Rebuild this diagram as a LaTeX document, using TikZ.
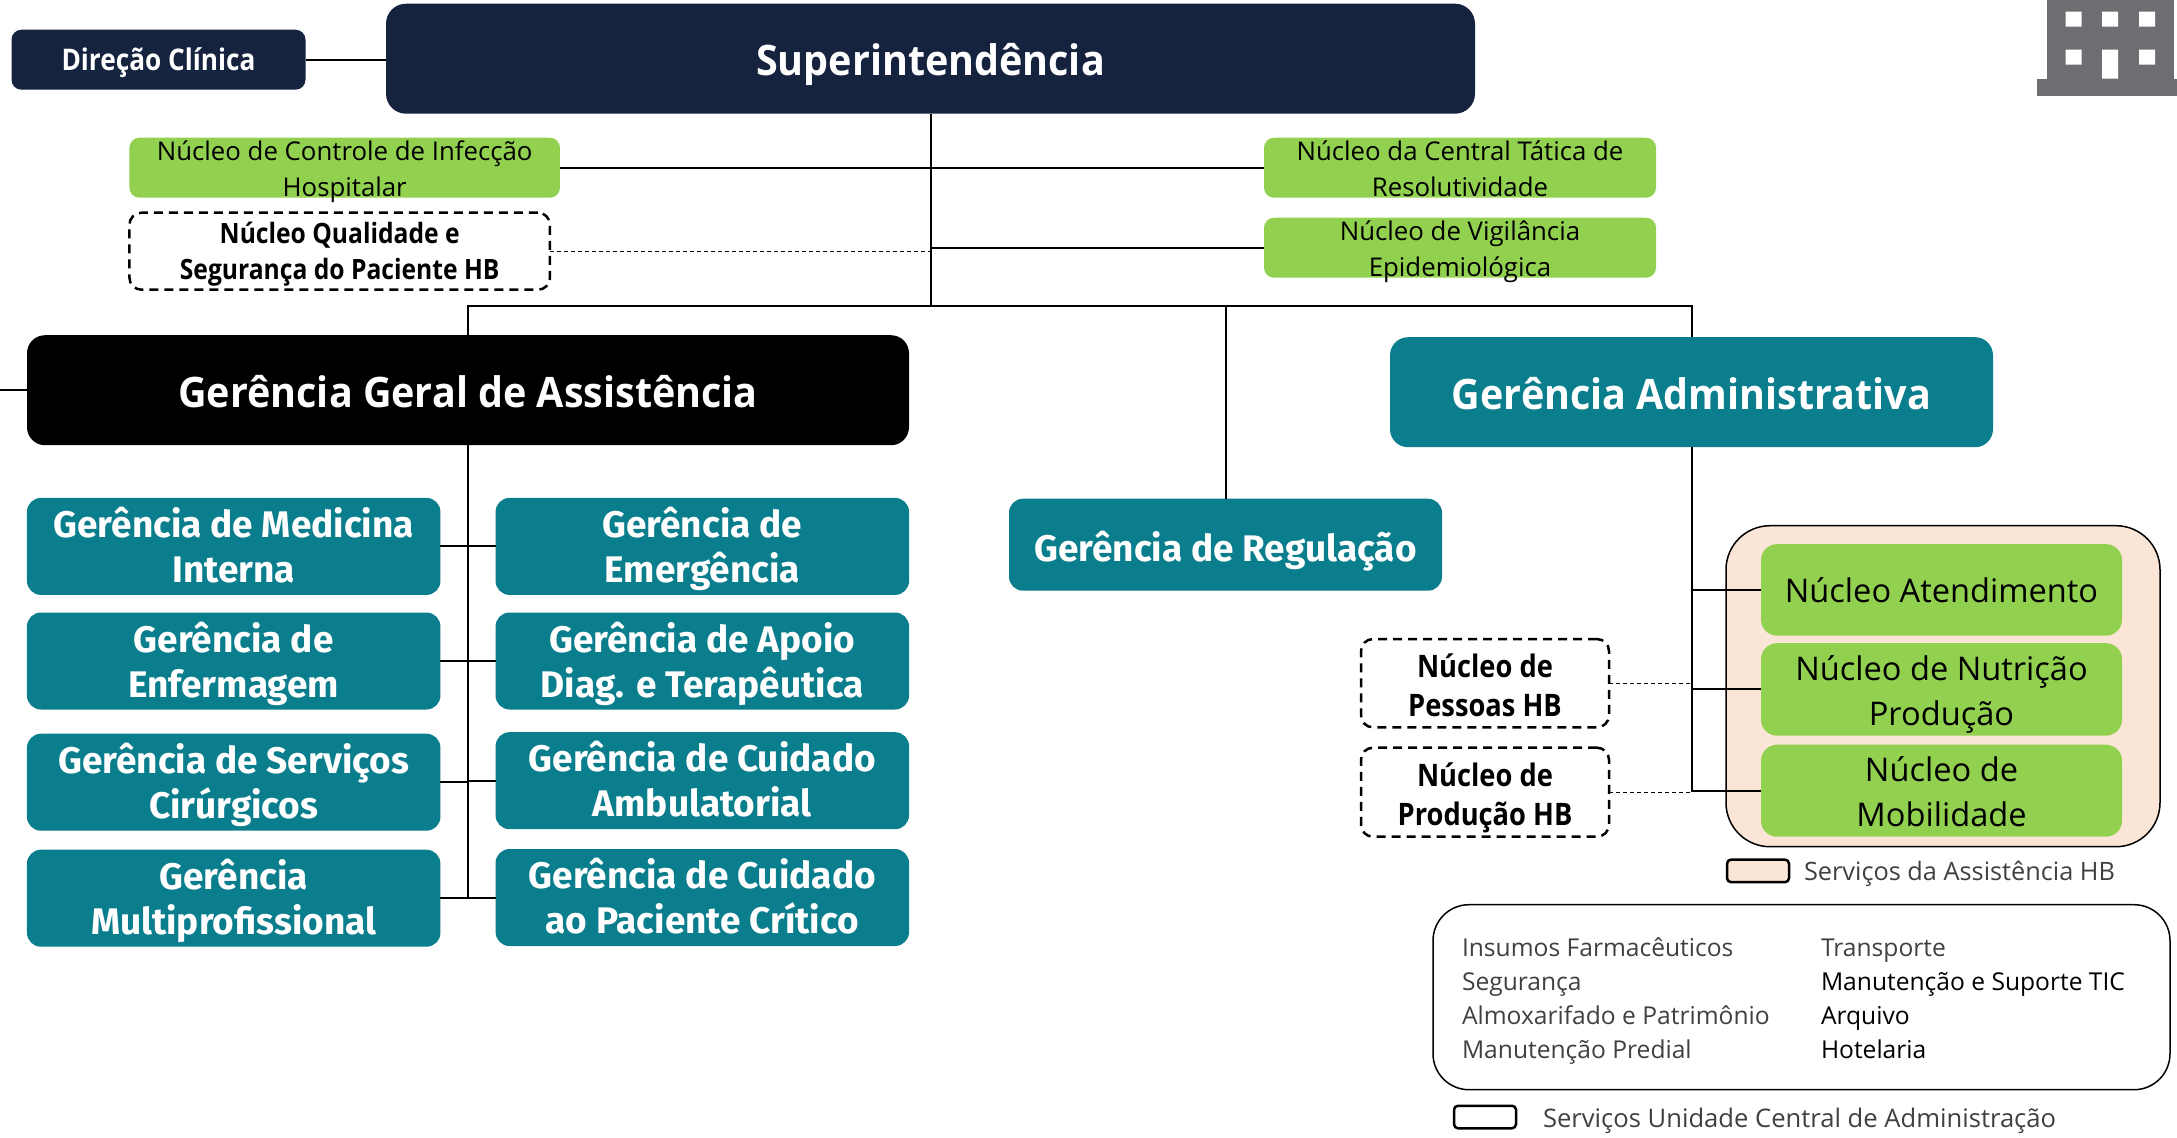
\documentclass[tikz,border=0pt]{standalone}
\usepackage{fontspec}
\setmainfont{Open Sans}
\newfontfamily\semibf{Open Sans}[BoldFeatures={FakeStretch=0.94}]
\newfontfamily\semibn{Open Sans}[BoldFeatures={FakeStretch=0.88}]
\newcommand{\semib}{\semibf\bfseries}
\newcommand{\semic}{\semibn\bfseries}
\newfontfamily\firaf{Fira Sans}
\newcommand{\firab}{\firaf\bfseries}
\definecolor{navy}{HTML}{16233F}
\definecolor{teal2}{HTML}{0A7E8C}
\definecolor{grn}{HTML}{92D050}
\definecolor{peach}{HTML}{FBE5D6}
\definecolor{bldg}{HTML}{6D6E71}
\definecolor{ink}{HTML}{404040}
\newcommand{\fsz}[2]{\fontsize{#1}{#2}\selectfont}
\tikzset{
 tbox/.style 2 args={text height=#1,text depth=#2},
 base/.style={rectangle,inner sep=0pt,outer sep=0pt,align=center,rounded corners=#1},
 base/.default=10pt,
 navybox/.style={base=10pt,fill=navy,text=white,tbox={42pt}{8.4pt}},
 titlebox/.style={base=18pt,text=white,tbox={42pt}{8.4pt},font=\semib\fsz{42}{50},minimum height=110pt},
 tealbox/.style={base=14pt,fill=teal2,text=white,tbox={72.2pt}{0pt},font=\firab\fsz{37}{45},minimum width=413.5pt,minimum height=97pt},
 greensm/.style={base=10pt,fill=grn,text=black,tbox={57.4pt}{0pt},font=\fsz{25.8}{36},minimum width=392pt,minimum height=60pt},
 greenbig/.style={base=16pt,fill=grn,text=black,tbox={72pt}{0pt},font=\fsz{32.6}{45},minimum width=361pt},
 dashbox/.style={base=12pt,draw=black,line width=2.5pt,dash pattern=on 9pt off 6pt,text=black,tbox={57.4pt}{0pt},font=\semic\fsz{28}{36}},
 dashbig/.style={dashbox,tbox={65.6pt}{0pt},font=\semic\fsz{31}{39},minimum width=248pt},
 conn/.style={draw=black,line width=2pt},
 dotconn/.style={draw=black,line width=1.4pt,dash pattern=on 4pt off 3pt},
 plain/.style={inner sep=0pt,outer sep=0pt,anchor=west,text height=1.2em,text depth=0.2em,font=\fsz{24.6}{30}},
 legendbox/.style={rectangle,rounded corners=4pt,draw=black,line width=2.5pt,minimum width=62pt,minimum height=22.5pt,inner sep=0pt,outer sep=0pt},
}
\begin{document}
\begin{tikzpicture}[x=1pt,y=-1pt]
\useasboundingbox (0,0) rectangle (2177,1138);
\begin{scope}[yshift=-0.7pt]
% building
\fill[bldg] (2046.5,-2) rectangle (2174,78);
\fill[bldg] (2036.5,78) rectangle (2179,95);
\fill[white] (2065.5,11) rectangle (2081.5,26) (2102,11) rectangle (2118,26) (2139,11) rectangle (2155,26)
 (2065.5,49) rectangle (2081.5,64) (2102,49) rectangle (2118,78) (2139,49) rectangle (2155,64);
% top
\node[navybox,tbox={28.3pt}{7.45pt},font=\semic\fsz{29.8}{34},minimum width=294pt,minimum height=60pt] (dc) at (158.5,59) {Direção Clínica};
\node[navybox,base=20pt,font=\semib\fsz{42}{50},minimum width=1089pt,minimum height=110pt] (sup) at (930.5,58) {Superintendência};
\node[greensm,minimum width=430.5pt] (ncih) at (344.7,167) {Núcleo de Controle de Infecção\\Hospitalar};
\node[dashbox,minimum width=420.5pt,minimum height=77pt] (nq) at (339.7,250.5) {Núcleo Qualidade e\\Segurança do Paciente HB};
\node[greensm] (nct) at (1460,167) {Núcleo da Central Tática de\\Resolutividade};
\node[greensm] (nv) at (1460,247) {Núcleo de Vigilância\\Epidemiológica};
% managers
\node[titlebox,fill=black,minimum width=882pt] (gga) at (468,389.5) {Gerência Geral de Assistência};
\node[titlebox,fill=teal2,minimum width=603pt] (ga) at (1691.5,391.5) {Gerência Administrativa};
\node[tealbox,tbox={40.7pt}{7.4pt},minimum width=433pt,minimum height=92pt] (reg) at (1225.5,544) {Gerência de Regulação};
\coordinate (split) at (930.5,305);
\coordinate (edgeL) at (0,389.5);
% left column
\node[tealbox] (l1) at (233.7,545.7) {Gerência de Medicina\\Interna};
\node[tealbox] (l2) at (233.7,660.3) {Gerência de\\Enfermagem};
\node[tealbox] (l3) at (233.7,781.5) {Gerência de Serviços\\Cirúrgicos};
\node[tealbox] (l4) at (233.7,897.5) {Gerência\\Multiprofissional};
\node[tealbox] (r1) at (702.3,545.7) {Gerência de\\Emergência};
\node[tealbox] (r2) at (702.3,660.3) {Gerência de Apoio\\Diag. e Terapêutica};
\node[tealbox] (r3) at (702.3,780) {Gerência de Cuidado\\Ambulatorial};
\node[tealbox] (r4) at (702.3,896.8) {Gerência de Cuidado\\ao Paciente Crítico};
% peach group
\node[rectangle,inner sep=0pt,outer sep=0pt,rounded corners=44pt,fill=peach,draw=black,line width=1.5pt,minimum width=434pt,minimum height=321pt] (grp) at (1943,685.5) {};
\node[greenbig,tbox={32.6pt}{6.5pt},minimum height=91.5pt] (g1) at (1941.5,589.2) {Núcleo Atendimento};
\node[greenbig,minimum height=92.5pt] (g2) at (1941.5,688.7) {Núcleo de Nutrição\\Produção};
\node[greenbig,minimum height=92pt] (g3) at (1941.5,790) {Núcleo de\\Mobilidade};
\node[dashbig,minimum height=88.3pt] (p1) at (1485,682.5) {Núcleo de\\Pessoas HB};
\node[dashbig,minimum height=89pt] (p2) at (1485,791.5) {Núcleo de\\Produção HB};
% connectors
\draw[conn] (dc.east) -- (dc.east -| sup.west);
\draw[conn] (sup.south) -- (split);
\draw[conn] (ncih.east) -- (nct.west);
\draw[conn] (nv.west) -- (nv.west -| sup.south);
\draw[dotconn] (nq.east) -- (nq.east -| sup.south);
\draw[conn] (gga.north) |- (split) -| (ga.north);
\draw[conn] (reg.north) -- (reg.north |- split);
\draw[conn] (edgeL) -- (gga.west);
\draw[conn] (gga.south) -- (gga.south |- l4.east);
\draw[conn] (l1.east) -- (r1.west);
\draw[conn] (l2.east) -- (r2.west);
\draw[conn] (l3.east) -- (l3.east -| gga.south);
\draw[conn] (r3.west) -- (r3.west -| gga.south);
\draw[conn] (l4.east) -- (l4.east -| gga.south);
\draw[conn] (r4.west) -- (r4.west -| gga.south);
\draw[conn] (ga.south) -- (ga.south |- g3.west) -- (g3.west);
\draw[conn] (g1.west) -- (g1.west -| ga.south);
\draw[conn] (g2.west) -- (g2.west -| ga.south);
\draw[dotconn] (p1.east) -- (p1.east -| ga.south);
\draw[dotconn] (p2.east) -- (p2.east -| ga.south);
% legend
\node[legendbox,fill=peach] (lgp) at (1758,870.2) {};
\node[plain,text=ink,font=\fsz{25.3}{30}] (lgpt) at (1804,874.5) {Serviços da Assistência HB};
\node[rectangle,inner sep=0pt,outer sep=0pt,rounded corners=36pt,draw=black,line width=1.5pt,minimum width=737pt,minimum height=185pt] (list) at (1801.5,996.5) {};
\node[plain,text=ink] (a1) at (1462,951) {Insumos Farmacêuticos};
\node[plain,text=ink] (a2) at (1462,984.5) {Segurança};
\node[plain,text=ink] (a3) at (1462,1018.5) {Almoxarifado e Patrimônio};
\node[plain,text=ink] (a4) at (1462,1052.5) {Manutenção Predial};
\node[plain,text=ink] (b1) at (1821,951) {Transporte};
\node[plain,text=black] (b2) at (1821,984.5) {Manutenção e Suporte TIC};
\node[plain,text=black] (b3) at (1821,1018.5) {Arquivo};
\node[plain,text=black] (b4) at (1821,1052.5) {Hotelaria};
\node[legendbox] (lgw) at (1485,1116.3) {};
\node[plain,text=ink,font=\fsz{25.6}{30}] (lgwt) at (1543,1122) {Serviços Unidade Central de Administração};
\end{scope}
\end{tikzpicture}
\end{document}
